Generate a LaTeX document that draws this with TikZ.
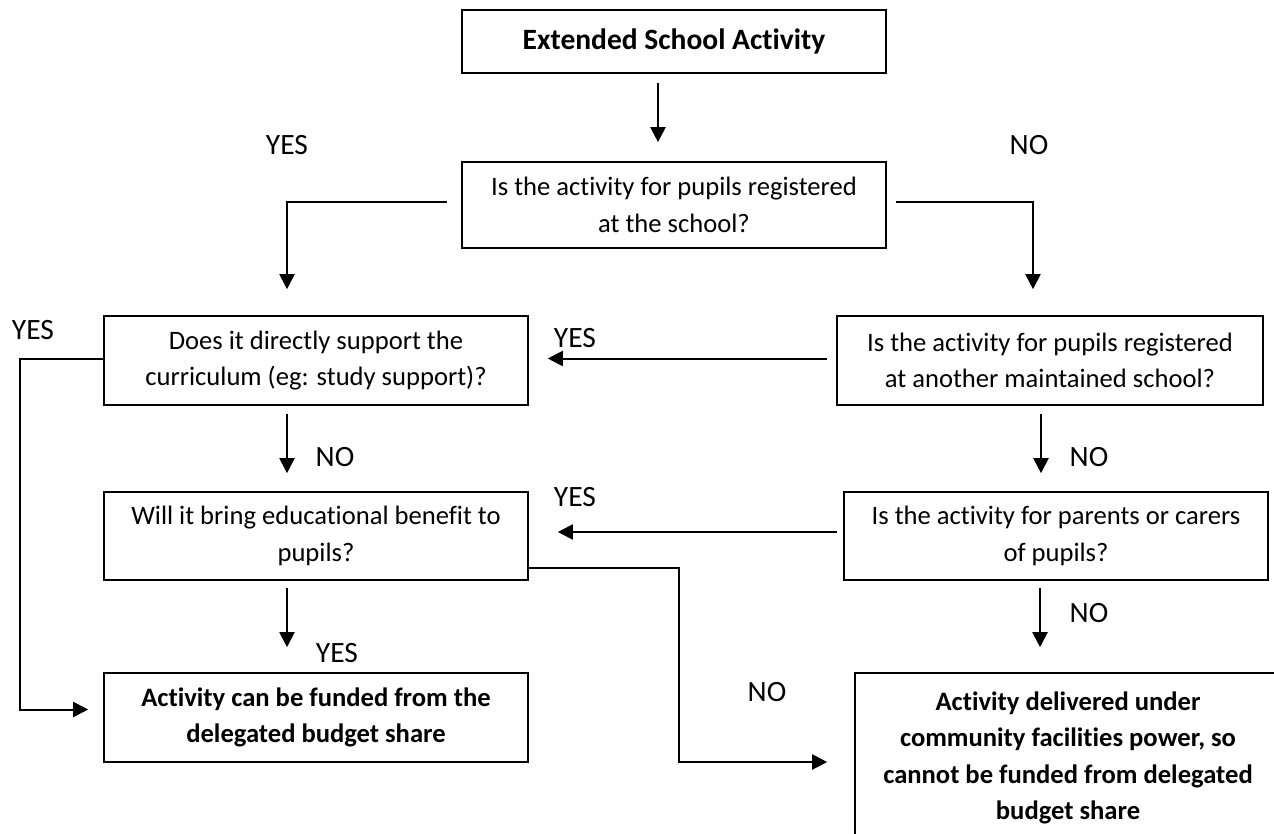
\documentclass[tikz,border=0pt]{standalone}
\usepackage{fontspec}
\setmainfont{Carlito}[Ligatures={NoCommon,NoContextual}]
\usetikzlibrary{arrows.meta}
\begin{document}
\begin{tikzpicture}[x=1pt,y=-1pt,
  box/.style={draw, line width=1.6pt, rectangle, inner sep=0pt, align=center, font=\fontsize{26.6pt}{36.5pt}\selectfont},
  boldbox/.style={box, font=\fontsize{26.6pt}{36.5pt}\selectfont\bfseries},
  lbl/.style={inner sep=0pt, font=\fontsize{29.5pt}{35pt}\selectfont},
  arr/.style={line width=2pt, -{Triangle[width=15pt,length=15pt]}}]
\clip (0,0) rectangle (1274,834);
\fill[white] (0,0) rectangle (1274,834);
% boxes
\node[box, minimum width=424pt, minimum height=63pt, font=\fontsize{29.5pt}{35pt}\selectfont\bfseries] (t) at (674,41.5) {Extended School Activity};
\node[box, minimum width=424pt, minimum height=86pt] (q1) at (674,205) {Is the activity for pupils registered\\at the school?};
\node[box, minimum width=424pt, minimum height=89pt] (q2) at (316,360.5) {Does it directly support the\\curriculum (eg: study support)?};
\node[box, minimum width=426pt, minimum height=89pt] (q3) at (1050,360.5) {Is the activity for pupils registered\\at another maintained school?};
\node[box, minimum width=424pt, minimum height=88pt] (q4) at (316,536) {Will it bring educational benefit to\\pupils?};
\node[box, minimum width=424pt, minimum height=88pt] (q5) at (1056,536) {Is the activity for parents or carers\\of pupils?};
\node[boldbox, minimum width=424pt, minimum height=89pt] (r1) at (316,717.5) {Activity can be funded from the\\delegated budget share};
\node[boldbox, minimum width=426pt, minimum height=170pt] (r2) at (1068,758) {Activity delivered under\\community facilities power, so\\cannot be funded from delegated\\budget share};
% labels
\node[lbl] (l1) at (287,145) {YES};
\node[lbl] (l2) at (1029,145) {NO};
\node[lbl] (l3) at (33,330) {YES};
\node[lbl] (l4) at (575,338) {YES};
\node[lbl] (l5) at (335,457) {NO};
\node[lbl] (l6) at (1089,457) {NO};
\node[lbl] (l7) at (575,497) {YES};
\node[lbl] (l8) at (767,692) {NO};
\node[lbl] (l9) at (337,653) {YES};
\node[lbl] (l10) at (1089,613) {NO};
% connectors
\draw[arr] ([xshift=-16pt,yshift=-9pt]t.south) -- ([xshift=-16pt,yshift=19pt]q1.north);
\draw[arr] ([xshift=-14pt,yshift=3pt]q1.west) -| ([xshift=-29pt,yshift=26pt]q2.north);
\draw[arr] ([xshift=9pt,yshift=3pt]q1.east) -| ([xshift=-17pt,yshift=26pt]q3.north);
\draw[arr] ([xshift=-9pt,yshift=2pt]q3.west) -- ([xshift=19pt,yshift=2pt]q2.east);
\draw[arr] ([yshift=2pt]q2.west) -- ++(-83,0) |- ([xshift=-15pt,yshift=8pt]r1.west);
\draw[arr] ([xshift=-29pt,yshift=-8pt]q2.south) -- ([xshift=-29pt,yshift=18pt]q4.north);
\draw[arr] ([xshift=-9pt,yshift=-8pt]q3.south) -- ([xshift=-15pt,yshift=18pt]q5.north);
\draw[arr] ([xshift=-6pt,yshift=4pt]q5.west) -- ([xshift=29pt,yshift=4pt]q4.east);
\draw[arr] ([yshift=-32pt]q4.east) -- ++(150,0) |- ([xshift=-27pt,yshift=-4pt]r2.west);
\draw[arr] ([xshift=-29pt,yshift=-7pt]q4.south) -- ([xshift=-29pt,yshift=25pt]r1.north);
\draw[arr] ([xshift=-16pt,yshift=-7pt]q5.south) -- ([xshift=-28pt,yshift=25pt]r2.north);
\end{tikzpicture}
\end{document}
